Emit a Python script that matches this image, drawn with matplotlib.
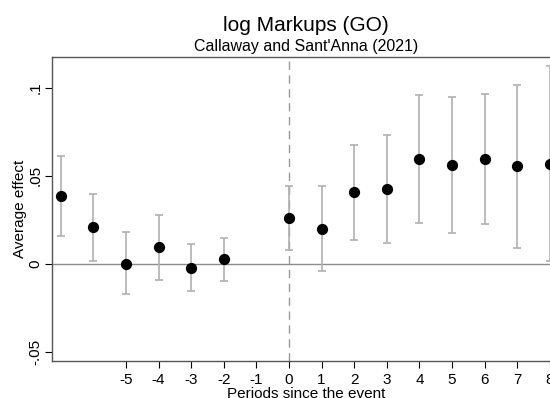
import matplotlib.pyplot as plt

plt.rcParams['font.family'] = ['Liberation Sans', 'DejaVu Sans']

# event-study estimates
periods = [-7, -6, -5, -4, -3, -2, 0, 1, 2, 3, 4, 5, 6, 7, 8]
effect = [0.0386, 0.0207, 0.0000, 0.0095, -0.0024, 0.0027, 0.0260, 0.0197,
          0.0407, 0.0424, 0.0593, 0.0561, 0.0593, 0.0553, 0.0568]
ci_low = [0.0157, 0.0017, -0.0170, -0.0093, -0.0155, -0.0098, 0.0078, -0.0041,
          0.0135, 0.0116, 0.0229, 0.0176, 0.0226, 0.0089, 0.0017]
ci_high = [0.0614, 0.0396, 0.0180, 0.0277, 0.0112, 0.0146, 0.0440, 0.0440,
           0.0674, 0.0733, 0.0957, 0.0949, 0.0962, 0.1017, 0.1123]
xticks = [-5, -4, -3, -2, -1, 0, 1, 2, 3, 4, 5, 6, 7, 8]
yticks = [-0.05, 0, 0.05, 0.1]
ytick_labels = ['-.05', '0', '.05', '.1']

fig = plt.figure(figsize=(5.5, 3.98), dpi=100)
ax = fig.add_axes([0.0945, 0.0937, 0.9236, 0.763])

err = [[e - lo for e, lo in zip(effect, ci_low)],
       [hi - e for e, hi in zip(effect, ci_high)]]
ax.errorbar(periods, effect, yerr=err, fmt='none', ecolor='#b0b0b0',
            elinewidth=1.2, capsize=2.6, capthick=1.2, zorder=2)
ax.scatter(periods, effect, s=50, color='black', zorder=3)

ax.axhline(0, color='#8c8c8c', lw=1, zorder=1)
ax.axvline(0, color='#9a9a9a', lw=1, ls=(0, (6, 4)), zorder=1)

ax.set_xlim(-7.27, 8.31)
ax.set_ylim(-0.0551, 0.1174)
ax.set_xticks(xticks)
ax.set_xticklabels([str(t) for t in xticks])
ax.set_yticks(yticks)
ax.set_yticklabels(ytick_labels, rotation=90, va='center')
ax.tick_params(labelsize=11, colors='black', length=5, width=0.8)
ax.tick_params(axis='y', pad=2)
for side in ['left', 'bottom', 'top']:
    ax.spines[side].set_color('#555555')
    ax.spines[side].set_linewidth(1)
ax.spines['right'].set_visible(False)

ax.set_xlabel('Periods since the event', fontsize=11, labelpad=0)
ax.set_ylabel('Average effect', fontsize=11, labelpad=1)

fig.text(0.556, 0.935, 'log Markups (GO)', ha='center', va='center', fontsize=15)
fig.text(0.556, 0.884, "Callaway and Sant'Anna (2021)", ha='center', va='center', fontsize=11.5)

plt.savefig('out.png', dpi=100)
